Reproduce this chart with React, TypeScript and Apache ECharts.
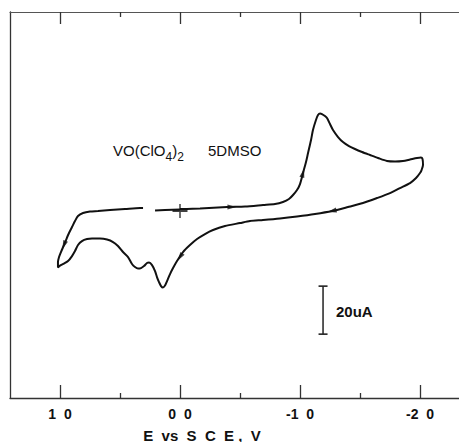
import React, { useEffect, useRef } from "react";
import * as echarts from "echarts";

// Potential axis (V vs SCE), drawn reversed: +1.0 on the left
const xMin = -2.325;
const xMax = 1.4167;
const majorTicks = [1, 0, -1, -2];
const majorLabels = ["1  0", "0  0", "-1  0", "-2  0"];
const minorTicks = [0.5, -0.5, -1.5];

// Current axis (uA)
const yMin = -78.3;
const yMax = 82.5;

// Cyclic voltammogram: potential (V) and current (uA), in scan order
const loopE = [
  0, -0.167, -0.392, -0.542, -0.692, -0.792, -0.858, -0.908, -0.942, -0.975, -1.0, -1.025, -1.05, -1.067,
  -1.092, -1.108, -1.133, -1.15, -1.167, -1.183, -1.208, -1.225, -1.25, -1.275, -1.317, -1.358, -1.408,
  -1.458, -1.517, -1.583, -1.65, -1.725, -1.792, -1.858, -1.917, -1.975, -2.008, -2.021,
  -2.025, -2.013, -2.0, -1.967, -1.917, -1.833, -1.75, -1.642, -1.525, -1.4, -1.267, -1.125, -0.975,
  -0.833, -0.692, -0.583, -0.5, -0.375, -0.275, -0.208, -0.142, -0.083, -0.025, 0.025, 0.058, 0.083,
  0.108, 0.125, 0.142, 0.158, 0.175, 0.192, 0.208, 0.233, 0.258, 0.275, 0.3, 0.325, 0.35, 0.375, 0.4,
  0.433, 0.475, 0.517, 0.558, 0.608, 0.667, 0.733, 0.775, 0.817, 0.85, 0.875, 0.9, 0.933, 0.967, 1.0,
  1.017,
  1.017, 1.008, 0.992, 0.967, 0.95, 0.925, 0.9, 0.875, 0.85, 0.808, 0.75, 0.683, 0.583, 0.458, 0.333,
  0.308,
];
const loopI = [
  0.4, 0.63, 1.25, 1.46, 2.08, 2.5, 3.33, 4.58, 6.25, 8.33, 10.83, 15.42, 20.0, 23.75,
  29.17, 33.33, 37.5, 39.58, 40.21, 40.0, 39.17, 38.33, 35.83, 33.33, 30.42, 28.33, 26.67,
  25.42, 24.17, 22.92, 21.67, 20.42, 20.21, 20.42, 21.04, 21.67, 21.88, 21.25,
  18.75, 16.67, 15.42, 13.33, 11.25, 9.17, 7.08, 5.0, 2.92, 1.25, -0.42, -1.67, -2.71,
  -3.54, -4.17, -4.58, -5.42, -6.67, -8.33, -10.0, -12.08, -14.58, -17.5, -21.25, -24.17, -26.67,
  -29.58, -31.46, -32.29, -31.67, -30.0, -27.92, -25.42, -22.92, -21.88, -22.08, -23.33, -24.17, -24.38, -23.75, -22.5,
  -19.58, -17.5, -15.0, -13.33, -12.29, -11.88, -11.88, -12.08, -12.92, -14.58, -17.08, -19.17, -21.25, -22.29, -23.13,
  -23.96,
  -21.67, -19.58, -17.5, -14.58, -12.5, -9.58, -7.08, -4.58, -2.5, -1.25, -0.63, -0.42, 0, 0.42, 0.83,
  0.83,
];
// last stretch of the trace after the pen gap
const tailE = [0.208, 0.125, 0.0];
const tailI = [-0.21, 0, 0.21];

// direction arrows on the trace
const arrowE = [-0.433, -1.025, -1.267, 0.0, 0.967];
const arrowI = [1.3, 15.42, -0.4, -19.6, -14.6];
const arrowRot = [-90, -15, 102, 146, 158];

// starting point marker
const startE = [0];
const startI = [-0.4];

// current scale bar
const scaleBarE = -1.192;
const scaleBarTop = -31.7;
const scaleBarSpan = 20;
const scaleBarLabel = "20uA";

const FONT = "'Liberation Sans', Arial, Helvetica, sans-serif";
const INK = "#111111";

export default function App() {
  const ref = useRef<HTMLDivElement>(null);

  useEffect(() => {
    if (!ref.current) return;
    const chart = echarts.init(ref.current, undefined, { renderer: "svg" });

    const baseX = {
      type: "value",
      min: xMin,
      max: xMax,
      inverse: true,
      splitLine: { show: false },
    };

    chart.setOption({
      animation: false,
      backgroundColor: "#ffffff",
      grid: {
        left: 10,
        right: 0,
        top: 12,
        bottom: 44,
        containLabel: false,
        outerBoundsMode: "none",
      },
      xAxis: [
        {
          ...baseX,
          position: "bottom",
          axisLine: { show: true, onZero: false, lineStyle: { color: "#333", width: 1.3 } },
          axisTick: {
            show: true,
            inside: true,
            length: 13,
            customValues: majorTicks,
            lineStyle: { color: "#333", width: 1.3 },
          },
          axisLabel: {
            show: true,
            customValues: majorTicks,
            margin: 9,
            fontSize: 14,
            fontWeight: "bold",
            fontFamily: FONT,
            color: INK,
            formatter: (v: number) => {
              const idx = majorTicks.findIndex((t) => Math.abs(t - v) < 1e-6);
              return idx >= 0 ? majorLabels[idx] : "";
            },
          },
        },
        {
          ...baseX,
          position: "bottom",
          axisLine: { show: false, onZero: false },
          axisTick: {
            show: true,
            inside: true,
            length: 5,
            customValues: minorTicks,
            lineStyle: { color: "#333", width: 1.3 },
          },
          axisLabel: { show: false },
        },
        {
          ...baseX,
          position: "top",
          axisLine: { show: true, onZero: false, lineStyle: { color: "#555", width: 1.2 } },
          axisTick: {
            show: true,
            inside: true,
            length: 12,
            customValues: majorTicks,
            lineStyle: { color: "#333", width: 1.3 },
          },
          axisLabel: { show: false },
        },
        {
          ...baseX,
          position: "top",
          axisLine: { show: false, onZero: false },
          axisTick: {
            show: true,
            inside: true,
            length: 5,
            customValues: minorTicks,
            lineStyle: { color: "#333", width: 1.3 },
          },
          axisLabel: { show: false },
        },
      ],
      yAxis: {
        type: "value",
        min: yMin,
        max: yMax,
        position: "left",
        axisLine: { show: true, onZero: false, lineStyle: { color: "#333", width: 1.3 } },
        axisTick: { show: false },
        axisLabel: { show: false },
        splitLine: { show: false },
      },
      series: [
        {
          type: "line",
          xAxisIndex: 0,
          data: loopE.map((e, i) => [e, loopI[i]]),
          showSymbol: false,
          smooth: 0.25,
          lineStyle: { color: INK, width: 2 },
        },
        {
          type: "line",
          xAxisIndex: 0,
          data: tailE.map((e, i) => [e, tailI[i]]),
          showSymbol: false,
          lineStyle: { color: INK, width: 2 },
        },
        {
          type: "scatter",
          xAxisIndex: 0,
          symbol: "path://M5,0 L10,16 L0,16 Z",
          symbolSize: [5, 9],
          itemStyle: { color: INK },
          data: arrowE.map((e, i) => ({ value: [e, arrowI[i]], symbolRotate: arrowRot[i] })),
        },
        {
          type: "scatter",
          xAxisIndex: 0,
          symbol: "path://M0,6 H16 V8.6 H0 Z M7.2,0 H8.8 V15 H7.2 Z",
          symbolSize: [15, 14],
          itemStyle: { color: INK },
          data: startE.map((e, i) => [e, startI[i]]),
        },
        {
          type: "line",
          xAxisIndex: 0,
          data: [
            [scaleBarE, scaleBarTop],
            [scaleBarE, scaleBarTop - scaleBarSpan],
          ],
          symbol: "path://M0,0 H10 V1 H0 Z",
          symbolSize: [9, 1.6],
          showSymbol: true,
          itemStyle: { color: "#222", borderWidth: 0 },
          lineStyle: { color: "#222", width: 1.5 },
        },
      ],
      graphic: [
        {
          type: "text",
          x: 113,
          y: 137,
          style: {
            text: "{m|VO(ClO}{s|4}{m|)}{s|2}",
            fill: INK,
            fontFamily: FONT,
            rich: {
              m: { fontSize: 15, lineHeight: 26, fontFamily: FONT, fill: INK },
              s: { fontSize: 12, lineHeight: 12, verticalAlign: "bottom", fontFamily: FONT, fill: INK },
            },
          },
        },
        {
          type: "text",
          x: 208,
          y: 150,
          style: {
            text: "5DMSO",
            fontSize: 15,
            fontFamily: FONT,
            fill: INK,
            verticalAlign: "middle",
          },
        },
        {
          type: "text",
          x: 336,
          y: 311,
          style: {
            text: scaleBarLabel,
            fontSize: 15,
            fontWeight: "bold",
            fontFamily: FONT,
            fill: INK,
            verticalAlign: "middle",
          },
        },
        {
          type: "text",
          x: 202,
          y: 435,
          style: {
            text: "E  vs  S  C  E ,  V",
            fontSize: 15,
            fontWeight: "bold",
            fontFamily: FONT,
            fill: INK,
            align: "center",
            verticalAlign: "middle",
          },
        },
      ],
    });

    return () => chart.dispose();
  }, []);

  return (
    <div
      ref={ref}
      style={{ position: "fixed", left: 0, top: 0, width: 459, height: 442, background: "#fff" }}
    />
  );
}
